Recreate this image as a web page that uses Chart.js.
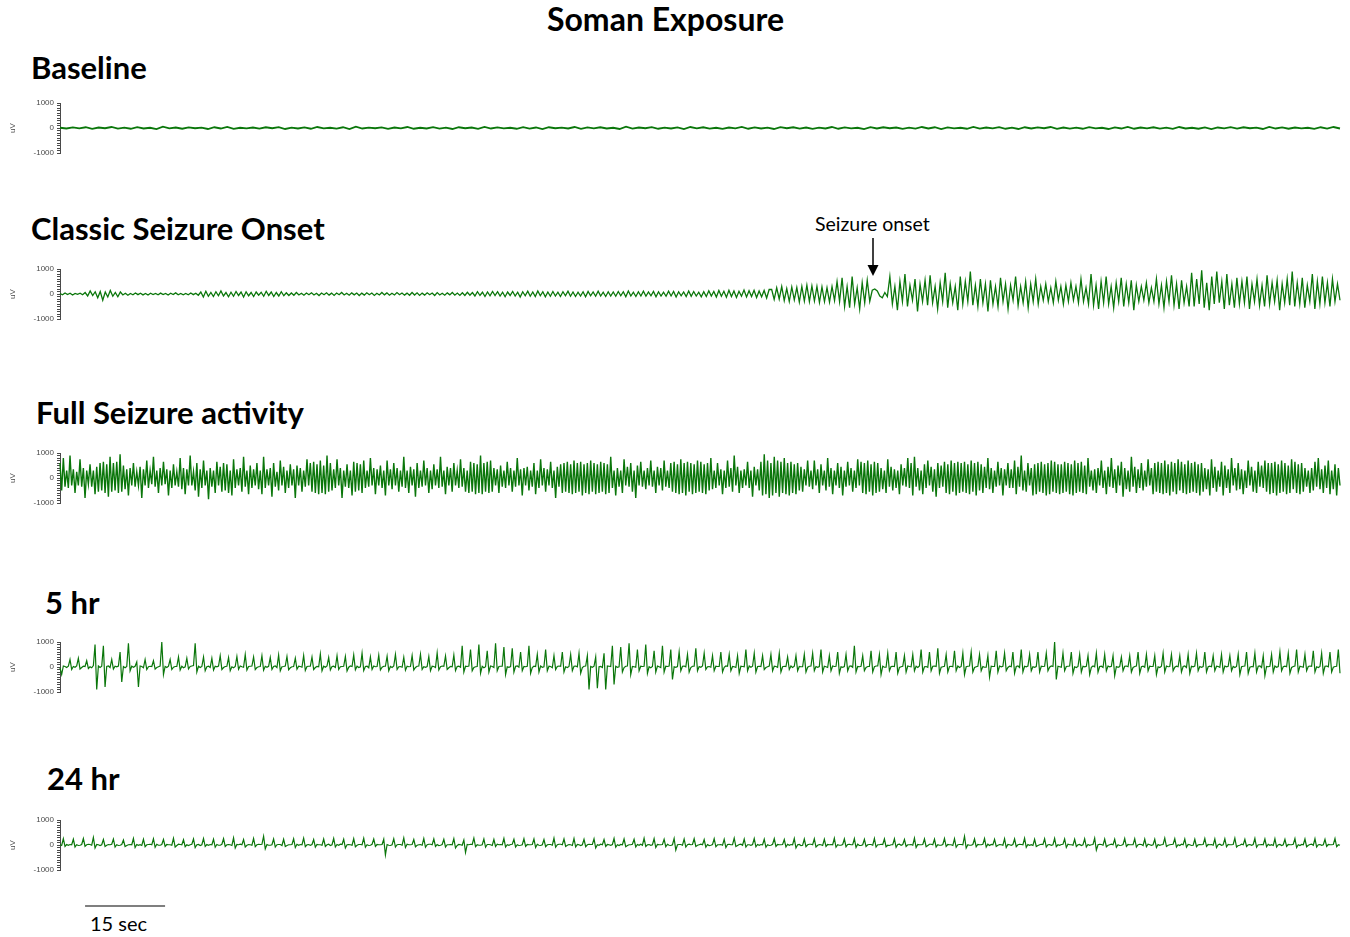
<!DOCTYPE html>
<html>
<head>
<meta charset="utf-8">
<script src="https://cdn.jsdelivr.net/npm/chart.js@4/dist/chart.umd.min.js"></script>
<style>
  html, body { margin: 0; padding: 0; background: #fff; width: 1350px; height: 937px; overflow: hidden; }
  canvas.trace { position: absolute; left: 0; }
  .lbl { position: absolute; white-space: nowrap; line-height: 1; color: #000; font-family: Lato, "Open Sans", sans-serif; }
  .hd { font-weight: bold; font-size: 31px; }
</style>
</head>
<body>
<div class="lbl" style="left:0;width:1331px;text-align:center;top:3px;font-size:32px;font-weight:bold">Soman Exposure</div>
<div class="lbl hd" style="left:31px;top:52px">Baseline</div>
<div class="lbl hd" style="left:31px;top:213px">Classic Seizure Onset</div>
<div class="lbl hd" style="left:36px;top:397px">Full Seizure activity</div>
<div class="lbl hd" style="left:45px;top:587px">5 hr</div>
<div class="lbl hd" style="left:47px;top:763px">24 hr</div>
<div class="lbl" style="left:815px;top:214px;font-size:19.5px">Seizure onset</div>
<svg style="position:absolute;left:0;top:0" width="1350" height="937">
  <line x1="873" y1="238" x2="873" y2="268" stroke="#000" stroke-width="1.5"/>
  <polygon points="867.5,265 878.5,265 873,276" fill="#000"/>
</svg>
<div class="lbl" style="left:90px;top:913px;font-size:20px">15 sec</div>

<canvas class="trace" id="cBaseline" width="1350" height="100" style="top:78px"></canvas>
<canvas class="trace" id="cOnset" width="1350" height="100" style="top:244px"></canvas>
<canvas class="trace" id="cFull" width="1350" height="100" style="top:428px"></canvas>
<canvas class="trace" id="c5hr" width="1350" height="100" style="top:617px"></canvas>
<canvas class="trace" id="c24hr" width="1350" height="145" style="top:795px"></canvas>

<script>
// Recording window shown in every trace (seconds) and the scale bar
const DURATION_SEC = 240;
const SCALE_BAR_SEC = 15;
const SCALE_BAR_START_SEC = 4.7;

// EEG amplitude ticks (uV)
const Y_TICKS = [-1000, 0, 1000];

// Baseline EEG (uV), evenly sampled over the window
const baselineUV = [
  10,-20,25,-15,30,-35,20,-10,40,-25, 15,-30,35,-20,10,-45,50,-15,20,-30,
  25,-10,15,-40,30,-20,45,-35,10,-15, 20,-25,30,-10,35,-40,15,-20,25,-30,
  40,-15,10,-25,30,-45,55,-20,15,-10, 25,-35,20,-15,40,-30,10,-20,35,-25,
  15,-40,30,-10,20,-35,45,-20,25,-15, 10,-30,35,-25,20,-45,30,-10,15,-20,
  40,-35,25,-15,30,-20,10,-40,50,-25, 20,-10,35,-30,15,-20,25,-45,40,-15,
  30,-25,10,-35,20,-15,45,-30,25,-20, 15,-40,35,-10,30,-25,20,-35,15,-20,
  40,-30,25,-15,10,-45,35,-20,30,-10, 20,-35,15,-25,40,-20,30,-40,25,-15,
  10,-30,45,-25,20,-15,35,-30,15,-40, 30,-20,25,-10,40,-35,20,-25,15,-30,
  35,-15,10,-40,25,-20,45,-30,20,-15, 30,-25,15,-35,40,-20,10,-30,25,-45,
  20,-15,35,-25,30,-10,15,-40,45,-20, 25,-30,20,-15,10,-35,30,-25,40,-20
];

// Classic seizure onset (uV): quiet, building, then seizure discharge
const onsetUV = [
  20,-30,40,-20,30,-40,25,-15,35,-30,60,-80,120,-60,90,-150,100,-250,80,-120,
  140,-90,60,-110,80,-40,30,-50,20,-30,40,-25,30,-35,20,-40,30,-20,25,-30,
  35,-25,20,-40,30,-20,45,-30,25,-35,20,-30,40,-25,30,-50,80,-120,110,-90,
  60,-100,90,-70,120,-80,60,-110,70,-90,100,-60,80,-120,90,-70,60,-100,80,-50,
  70,-90,110,-60,80,-100,60,-80,90,-70,50,-60,40,-50,60,-40,30,-50,40,-30,
  50,-40,30,-60,40,-30,50,-45,35,-55,40,-30,60,-40,30,-50,45,-35,40,-60,
  35,-45,50,-30,40,-55,30,-40,60,-35,45,-50,30,-40,55,-30,40,-45,35,-50,
  60,-40,45,-55,35,-45,50,-30,40,-60,55,-40,30,-50,45,-35,60,-45,40,-55,
  50,-60,70,-50,60,-80,90,-60,70,-100,80,-70,100,-60,90,-80,70,-110,80,-60,
  100,-80,70,-120,90,-70,110,-90,80,-100,120,-70,90,-110,80,-90,100,-80,70,-100,
  90,-70,110,-90,80,-100,70,-80,90,-110,100,-70,80,-90,110,-80,70,-100,90,-80,
  80,-90,100,-70,90,-110,120,-80,70,-100,90,-80,110,-90,80,-70,100,-110,90,-80,
  70,-90,110,-80,100,-120,90,-70,80,-100,120,-90,100,-80,70,-110,90,-100,130,-80,
  100,-120,140,-90,110,-130,150,-100,120,-140,110,-90,160,-120,130,-100,150,-140,120,-110,
  140,-160,180,
  180,-220,250,-200,300,-260,220,-300,280,-240,260,-320,300,-280,350,-300,320,-280,300,-340,280,-300,250,-320,300,-260,
  500,-300,650,-500,300,-550,700,-400,250,-600,450,-350,550,-300,
  150,200,120,-80,-150,60,-100,
  700,-400,300,-650,500,-300,800,-500,350,-250,600,-700,400,-300,550,-450,750,-350,300,-600,
  450,-300,850,-550,400,-350,300,-650,700,-400,500,-300,900,-450,350,-500,600,-350,400,-700,
  550,-400,300,-500,650,-300,400,-600,350,-250,700,-450,300,-350,500,-550,400,-300,600,-400,
  300,-250,400,-300,250,-350,500,-250,300,-400,350,-300,450,-250,300,-350,600,-300,250,-400,
  800,-450,350,-600,500,-350,700,-400,300,-550,450,-300,650,-500,400,-350,550,-650,350,-300,
  300,-250,450,-350,250,-300,600,-400,350,-550,500,-300,750,-450,400,-600,550,-350,300,-500,
  850,-500,600,-400,950,-550,450,-650,700,-400,900,-350,500,-600,800,-450,400,-550,650,-400,
  500,-350,700,-600,400,-300,600,-450,350,-500,750,-400,450,-300,550,-650,400,-350,600,-450,
  900,-500,450,-400,650,-550,350,-300,800,-600,500,-400,700,-350,450,-500,600,-300,400,-250
];

// Full seizure activity (uV)
const fullSeizureUV = [
  600,-500,800,-350,300,-400,900,-300,350,-600,250,-300,750,-350,400,-800,300,-250,550,-350,300,-650,450,-550,600,-500,650,-600,550,-750,
  850,-550,600,-500,650,-600,950,-550,500,-450,350,-700,400,-300,600,-350,250,-300,450,-800,350,-300,700,-400,300,-250,850,-350,300,-600,
  400,-300,650,-250,350,-700,300,-400,550,-300,250,-350,800,-450,400,-650,350,-300,900,-300,250,-500,600,-750,350,-400,700,-300,300,-850,
  400,-350,300,-600,650,-300,450,-550,600,-500,550,-600,300,-700,750,-400,350,-300,400,-550,850,-350,300,-650,500,-400,350,-300,600,-450,
  300,-650,850,-400,350,-300,400,-750,600,-350,250,-500,700,-300,450,-600,300,-400,550,-300,350,-800,500,-300,400,-550,300,-350,750,-300,
  600,-550,650,-600,550,-650,700,-600,500,-650,900,-550,600,-500,350,-400,750,-300,400,-800,300,-350,550,-400,300,-700,650,-550,600,-500,
  550,-600,700,-400,300,-350,800,-300,400,-650,350,-300,500,-400,300,-700,700,-300,350,-450,600,-300,400,-550,300,-350,850,-400,300,-600,
  450,-300,350,-750,600,-400,300,-350,700,-300,400,-600,300,-450,550,-300,350,-400,850,-350,300,-650,450,-300,400,-550,600,-300,300,-400,
  750,-350,400,-550,300,-600,650,-550,600,-650,550,-600,900,-650,600,-550,650,-600,700,-550,400,-300,350,-600,500,-350,300,-400,650,-300,
  400,-550,300,-350,800,-300,350,-700,400,-300,450,-500,300,-350,600,-650,300,-400,750,-300,400,-550,350,-300,650,-400,300,-800,450,-350,
  550,-600,600,-550,650,-600,550,-650,700,-600,600,-550,650,-700,550,-600,600,-650,700,-550,600,-650,550,-600,650,-550,600,-650,550,-600,
  850,-400,300,-700,400,-350,300,-600,750,-300,450,-350,600,-550,300,-800,500,-300,650,-350,300,-450,400,-300,700,-350,300,-600,450,-300,
  400,-500,700,-350,300,-400,600,-550,650,-600,550,-650,750,-600,600,-700,650,-550,600,-650,550,-600,700,-550,650,-600,550,-650,600,-500,
  800,-450,300,-400,600,-300,350,-650,300,-400,700,-350,400,-550,900,-300,450,-600,300,-400,350,-300,650,-400,300,-750,450,-300,350,-500,
  650,-700,950,-650,700,-800,600,-700,850,-600,700,-750,650,-600,800,-650,600,-700,650,-600,550,-650,600,-500,450,-550,350,-300,700,-350,
  300,-450,700,-300,350,-600,550,-300,300,-500,800,-350,400,-650,300,-300,600,-400,450,-700,300,-350,650,-300,400,-550,300,-400,750,-300,
  650,-600,600,-650,700,-550,550,-700,650,-600,600,-550,400,-450,300,-600,750,-350,450,-500,350,-400,300,-650,550,-300,400,-350,800,-400,
  600,-700,850,-350,400,-500,300,-650,550,-400,700,-300,450,-550,350,-750,600,-400,500,-350,650,-600,550,-650,700,-550,600,-700,650,-600,
  600,-550,650,-600,550,-650,700,-550,600,-700,650,-500,550,-600,450,-400,800,-450,400,-600,300,-350,650,-300,400,-700,350,-300,600,-400,
  350,-400,700,-650,450,-350,900,-500,300,-550,600,-300,400,-700,550,-650,600,-550,650,-600,550,-700,600,-650,700,-550,650,-600,550,-650,
  550,-600,650,-550,600,-650,550,-700,700,-600,600,-550,650,-600,500,-650,800,-350,300,-500,350,-600,400,-300,700,-400,300,-650,450,-350,
  800,-400,350,-600,500,-300,650,-750,400,-450,300,-550,850,-350,450,-600,350,-400,600,-500,300,-350,750,-300,400,-650,600,-550,650,-600,
  600,-650,700,-600,550,-700,650,-550,600,-650,750,-500,650,-600,550,-650,700,-600,600,-550,650,-600,550,-700,600,-550,400,-450,350,-700,
  750,-400,450,-550,300,-350,650,-700,500,-400,350,-600,800,-300,400,-500,600,-450,350,-650,300,-400,700,-300,450,-550,300,-600,650,-350,
  500,-400,700,-550,600,-650,600,-600,650,-700,550,-600,700,-550,600,-650,500,-600,750,-450,650,-600,550,-650,600,-550,400,-350,300,-600,
  400,-500,650,-350,800,-450,350,-600,500,-400,700,-650,300,-450,550,-700,400,-300
];

// 5 hr after exposure (uV): recurring spike discharges
const hr5UV = [
  -30,-300,40,20,-20, 30,300,-100,20,-10, 40,350,-80,-20,30, 20,250,-60,10,-30, 60,900,-900,40,-20, 30,850,-800,20,40,
  -20,300,-80,30,10, 40,600,-600,20,-30, 20,950,-150,30,-10, 30,200,-800,40,20, -30,300,-100,10,30, 20,250,-80,-20,10,
  40,1000,-300,20,-20, 30,300,-100,-10,20, 20,400,-120,30,-30, 10,350,-80,20,40, 60,950,-200,30,-20, 20,400,-150,10,30,
  -20,350,-120,30,10, 40,450,-100,-20,20, 30,380,-150,10,-30, 20,420,-90,40,10, -10,500,-120,20,30, 40,400,-100,-20,10,
  20,450,-130,30,-10, 30,380,-100,20,40, -20,480,-150,10,20, 40,420,-110,-30,10, 20,350,-90,30,20, -10,460,-140,20,30,
  30,400,-100,-20,20, 10,520,-150,30,-10, 40,380,-120,20,30, -20,450,-100,10,20, 30,420,-160,-10,40, 20,480,-110,30,-20,
  10,550,-140,20,30, -30,400,-100,40,10, 20,470,-120,-10,30, 30,430,-150,20,-20, 40,500,-100,10,20, -10,390,-130,30,10,
  20,460,-120,-20,30, 40,510,-100,10,-10, 20,420,-150,30,20, -20,560,-120,10,40, 30,440,-100,-30,20, 10,480,-140,20,30,
  -10,850,-200,30,20, 40,700,-150,-20,10, 20,900,-250,30,-30, 10,650,-200,40,20, -20,950,-150,20,30, 30,800,-300,10,-10,
  20,750,-200,30,40, -10,600,-150,20,10, 30,850,-250,-20,30, 20,500,-200,40,-10, 10,700,-150,30,20, -30,450,-100,20,40,
  30,600,-200,10,-20, 20,500,-150,30,40, 10,550,-250,-20,30, 40,450,-900,20,-10, 30,400,-850,10,20, -20,550,-900,40,30,
  20,850,-700,30,-10, 10,800,-200,-20,30, 40,950,-300,20,10, -10,700,-150,30,20, 30,900,-250,10,-30, 20,650,-200,40,10,
  -20,850,-200,30,20, 40,700,-500,10,-10, 20,600,-150,30,40, 10,500,-200,-20,30, 30,750,-150,20,-10, 40,550,-100,10,20,
  -10,450,-150,30,20, 20,600,-200,-10,40, 30,500,-150,20,10, -20,450,-250,30,20, 10,700,-150,40,-10, 30,550,-200,20,30,
  20,450,-100,-20,10, 40,500,-150,30,20, -10,550,-200,10,30, 20,400,-100,40,-20, 30,450,-150,20,10, 10,500,-200,-10,30,
  40,550,-150,20,-10, 20,700,-200,30,10, -20,450,-150,40,20, 30,600,-250,10,-10, 20,500,-150,30,40, -10,850,-200,20,10,
  30,450,-150,-20,20, 20,650,-200,10,40, 40,500,-300,30,-10, -10,550,-150,20,30, 20,600,-250,-20,10, 30,450,-200,40,20,
  10,500,-150,30,-20, 40,700,-200,10,20, -10,600,-150,30,40, 20,750,-250,-10,10, 30,500,-200,20,30, 10,650,-150,40,-20,
  20,550,-300,10,30, 40,600,-200,-20,10, 30,500,-150,20,-10, -10,450,-400,30,20, 20,650,-200,40,10, 30,550,-150,-20,30,
  10,600,-250,20,40, -20,700,-200,30,10, 40,500,-150,10,-10, 20,600,-200,30,20, 30,550,-150,-10,40, 20,1000,-500,30,10,
  -10,550,-150,20,30, 40,600,-250,10,-20, 20,500,-200,30,10, 30,450,-300,-10,40, 10,550,-200,20,30, -20,500,-150,40,10,
  30,450,-350,20,-10, 20,400,-150,30,40, 10,450,-200,-20,20, 40,600,-250,10,30, -10,500,-150,30,20, 20,450,-300,10,-20,
  30,550,-200,40,10, 20,500,-150,-10,30, 10,450,-200,20,40, -20,500,-250,30,10, 40,550,-150,20,-10, 20,600,-200,10,30,
  10,450,-150,30,20, -10,500,-200,40,10, 30,450,-150,20,-20, 20,500,-300,10,30, 40,600,-250,-10,20, 10,550,-200,30,40,
  -20,450,-350,20,10, 30,500,-200,40,-10, 20,600,-150,10,30, 10,550,-250,-20,20, 40,700,-200,30,10, -10,500,-150,20,40,
  30,650,-200,10,-20, 20,550,-250,30,40, 10,600,-200,-10,20, 30,700,-250
];

// 24 hr after exposure (uV): small residual spikes
const hr24UV = [
  10,-20,250,-60,20,-10, 20,10,230,-80,10,-20, -10,20,260,-50,10,30, 20,-10,300,-120,20,10, -20,10,220,-60,-10,20,
  10,30,240,-80,10,-20, -10,20,200,-60,-20,10, 20,10,260,-100,20,-10, 10,-20,230,-70,10,20, 30,10,250,-90,30,-10,
  -10,20,220,-60,20,10, 10,-10,270,-80,-20,30, 20,10,210,-70,10,-20, 10,30,240,-100,10,20, -20,10,260,-60,20,-10,
  20,10,230,-90,20,-10, -10,30,250,-60,10,20, 10,-20,280,-120,20,10, 30,10,220,-80,-10,20, 10,-10,260,-70,10,30,
  20,30,350,-150,20,-10, -10,10,240,-80,10,20, 20,-20,230,-60,-20,10, 10,20,250,-100,30,-10, 20,10,270,-70,10,20,
  -10,20,220,-90,20,10, 10,-10,240,-60,10,30, -20,10,260,-80,20,-10, 30,20,230,-120,10,20, 10,-10,250,-70,-10,20,
  20,10,270,-90,10,-20, -10,30,240,-60,20,10, 10,20,230,-400,20,-10, -20,10,250,-80,10,20, 20,-10,280,-100,30,10,
  10,20,220,-70,-10,10, 20,-10,260,-90,10,30, 30,10,240,-60,20,-20, -10,20,230,-80,10,10, 20,10,250,-120,-20,20,
  10,-10,200,-300,20,10, 30,20,270,-70,10,-10, -10,10,240,-90,20,20, 10,-20,220,-60,30,10, 20,10,260,-80,10,-10,
  20,30,230,-80,10,-20, -10,10,250,-60,20,10, 10,20,240,-100,30,-10, -20,10,220,-70,10,20, 20,-10,270,-90,10,30,
  30,10,240,-60,-10,20, 10,-20,260,-80,20,10, -20,10,230,-70,10,30, 20,20,250,-120,10,-10, 30,10,220,-60,20,10,
  -10,20,260,-90,10,-20, 20,10,240,-70,-20,10, 10,30,230,-80,20,-10, 30,-10,270,-60,10,20, -10,10,250,-100,20,10,
  10,20,230,-70,30,-10, -20,10,260,-200,10,20, 20,-10,240,-80,10,30, 10,20,250,-60,-10,10, 30,10,220,-90,20,-20,
  -10,20,250,-70,10,10, 20,-10,230,-100,20,30, 10,10,270,-60,-20,20, 30,-10,240,-80,10,10, -10,20,260,-70,20,-10,
  20,10,230,-90,10,-20, -10,30,250,-60,20,10, 10,20,220,-80,30,-10, 20,10,260,-120,10,20, -20,-10,240,-70,10,30,
  30,10,250,-80,-10,20, 10,-20,230,-60,20,10, 20,10,270,-90,10,-10, -10,20,240,-70,20,30, 10,10,250,-100,30,-20,
  -20,10,230,-60,10,20, 20,-10,260,-80,10,10, 30,20,240,-70,-10,-20, 10,10,250,-90,20,30, -10,20,220,-60,10,10,
  20,-10,270,-100,20,10, 10,20,240,-70,-20,30, 30,10,230,-80,10,-10, -10,20,260,-60,20,10, 10,-20,250,-90,10,20,
  20,10,350,-120,10,-10, -10,20,240,-70,20,10, 10,30,260,-80,30,-20, 20,10,230,-60,-10,20, 10,-10,250,-100,20,10,
  -10,20,240,-70,10,30, 20,10,270,-90,20,-10, 10,-20,230,-60,-20,10, 30,20,250,-80,10,20, -10,10,260,-70,10,-10,
  20,30,240,-100,30,10, 10,-10,230,-60,10,20, -20,10,250,-80,20,-10, 10,20,270,-200,10,30, 20,-10,240,-70,-10,10,
  30,10,230,-90,10,-20, -10,20,260,-60,20,10, 10,10,250,-80,10,30, 20,-20,240,-70,30,10, -10,10,230,-100,20,-10,
  10,20,270,-60,-10,10, 20,30,250,-80,10,-20, 30,10,240,-90,20,10, -20,-10,230,-70,10,20, 10,20,260,-60,20,10,
  20,-10,240,-100,10,30, -10,10,250,-70,20,10, 10,20,270,-80,-20,-10, 30,10,230,-60,10,20, -10,20,260,-90,10,10,
  20,10,240,-70,30,-10, 10,-20,250,-80,10,20, -20,10,230,-60,20,10, 10,30,260,-100,10,-20, 20,10,240,-70,-10,20,
  30,-10,250,-80,10,20, -10,10,230,-60,20,10, 10,20,260,-70,10,-10
];

const TRACE_COLOR = '#0a760a';
const AXIS_COLOR = '#4a4a4a';
const SMALL_FONT = { family: 'Liberation Sans', size: 8 };

// Draws the time scale bar below a trace, sized from the time axis
const scaleBarPlugin = {
  id: 'scaleBar',
  afterDraw(chart) {
    const xs = chart.scales.x;
    const x0 = xs.getPixelForValue(SCALE_BAR_START_SEC);
    const x1 = xs.getPixelForValue(SCALE_BAR_START_SEC + SCALE_BAR_SEC);
    const y = chart.chartArea.bottom + 36;
    const ctx = chart.ctx;
    ctx.save();
    ctx.strokeStyle = '#555';
    ctx.lineWidth = 1.5;
    ctx.beginPath();
    ctx.moveTo(x0, y);
    ctx.lineTo(x1, y);
    ctx.stroke();
    ctx.restore();
  }
};

function drawTrace(canvasId, values, lineWidth, extraBottom, plugins) {
  const step = DURATION_SEC / (values.length - 1);
  const points = values.map((v, i) => ({ x: i * step, y: v }));
  return new Chart(document.getElementById(canvasId), {
    type: 'line',
    data: {
      datasets: [{
        data: points,
        borderColor: TRACE_COLOR,
        borderWidth: lineWidth,
        pointRadius: 0,
        tension: 0,
        fill: false,
        clip: false
      }]
    },
    options: {
      responsive: false,
      animation: false,
      devicePixelRatio: 1,
      events: [],
      layout: { padding: { top: 25, bottom: 25 + (extraBottom || 0), left: 0, right: 10 } },
      plugins: { legend: { display: false }, tooltip: { enabled: false } },
      scales: {
        x: { type: 'linear', min: 0, max: DURATION_SEC, display: false },
        y: {
          min: -1000,
          max: 1000,
          afterFit(scale) { scale.width = 60; },
          ticks: {
            stepSize: 100,
            maxTicksLimit: 21,
            autoSkip: false,
            padding: 3,
            color: AXIS_COLOR,
            font: SMALL_FONT,
            callback(v) { const r = Math.round(v); return Y_TICKS.includes(r) ? String(r) : ''; }
          },
          grid: { drawOnChartArea: false, tickLength: 3, tickColor: AXIS_COLOR, tickWidth: 1 },
          border: { display: true, color: AXIS_COLOR, width: 1 },
          title: { display: true, text: 'uV', color: AXIS_COLOR, font: SMALL_FONT, padding: { top: 8, bottom: 0 } }
        }
      }
    },
    plugins: plugins || []
  });
}

drawTrace('cBaseline', baselineUV, 1.8);
drawTrace('cOnset', onsetUV, 1.3);
drawTrace('cFull', fullSeizureUV, 1.4);
drawTrace('c5hr', hr5UV, 1.2);
drawTrace('c24hr', hr24UV, 1.2, 45, [scaleBarPlugin]);
</script>
</body>
</html>
